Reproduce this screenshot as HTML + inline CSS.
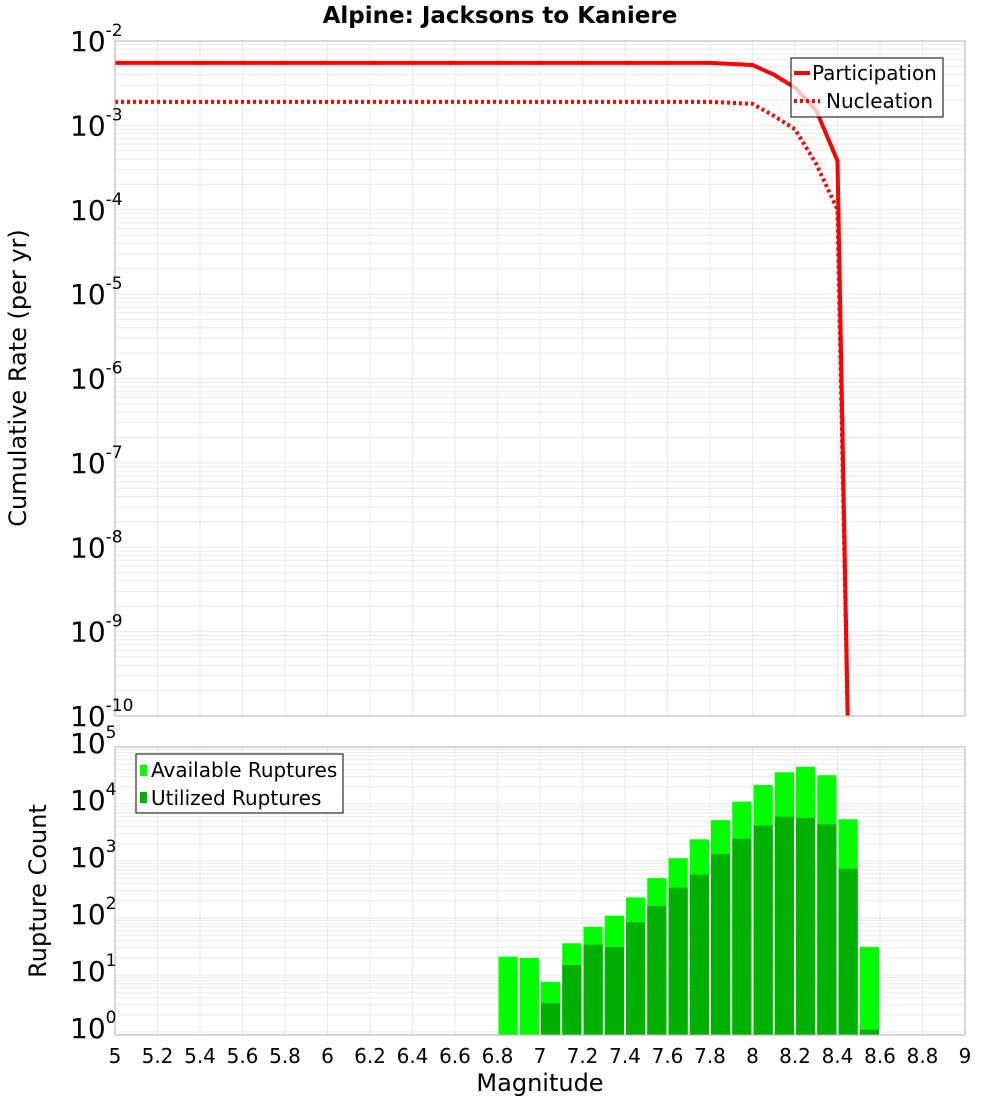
<!DOCTYPE html>
<html><head><meta charset="utf-8"><style>
body{margin:0;background:#fff;font-family:"DejaVu Sans","Liberation Sans",sans-serif;}
svg{display:block}
</style></head><body>
<svg id="c" width="1000" height="1100" xmlns="http://www.w3.org/2000/svg" font-family="DejaVu Sans, Liberation Sans, sans-serif"></svg>
<script>
const partMag=[5.0,7.8,8.0,8.1,8.2,8.3,8.4,8.45];
const partRate=[5.5e-3,5.5e-3,5.2e-3,4.0e-3,2.8e-3,1.5e-3,3.8e-4,5e-11];
const nuclMag=[5.0,7.8,8.0,8.1,8.2,8.3,8.4,8.45];
const nuclRate=[1.9e-3,1.9e-3,1.8e-3,1.3e-3,9.0e-4,3.5e-4,1.0e-4,5e-11];
const binMag=[6.85,6.95,7.05,7.15,7.25,7.35,7.45,7.55,7.65,7.75,7.85,7.95,8.05,8.15,8.25,8.35,8.45,8.55];
const availCount=[21,20,7.6,36,70,110,230,500,1120,2400,5200,11000,21500,36000,45000,32000,5400,31];
const usedCount=[0,0,3.2,15,34,31,84,162,340,575,1320,2450,4200,6000,5700,4400,730,1.1];
const xTicks=[5,5.2,5.4,5.6,5.8,6,6.2,6.4,6.6,6.8,7,7.2,7.4,7.6,7.8,8,8.2,8.4,8.6,8.8,9];
const topExp=[-2,-3,-4,-5,-6,-7,-8,-9,-10];
const botExp=[5,4,3,2,1,0];

const svg=document.getElementById('c');
const NS='http://www.w3.org/2000/svg';
function mk(tag,a,parent){const e=document.createElementNS(NS,tag);for(const k in a)e.setAttribute(k,a[k]);(parent||svg).appendChild(e);return e;}
const L=115,R=965;
const X=m=>L+(m-5)/4*(R-L);
const T0=41,T1=716;
const YT=v=>T0+(-2-Math.log10(v))*(T1-T0)/8;
const B0=747,B1=1035,dec=57;
const YB=v=>Math.min(B1,B0+(5-Math.log10(v))*dec);

const gT=mk('g',{});
for(let e=-10;e<-2;e++)for(let k=1;k<10;k++){const y=YT(k*Math.pow(10,e));mk('line',{x1:L,x2:R,y1:y,y2:y,stroke:'#ebebeb','stroke-width':1},gT);}
const gB=mk('g',{});
for(let e=-1;e<5;e++)for(let k=1;k<10;k++){const y=YB(k*Math.pow(10,e));if(y>=B1||y<B0)continue;mk('line',{x1:L,x2:R,y1:y,y2:y,stroke:'#ebebeb','stroke-width':1},gB);}
xTicks.forEach(t=>{const x=X(t);mk('line',{x1:x,x2:x,y1:T0,y2:T1,stroke:'#ebebeb'},gT);mk('line',{x1:x,x2:x,y1:B0,y2:B1,stroke:'#ebebeb'},gB);});

const bars=mk('g',{});
const bw=(X(0.1)-X(0))-2;
binMag.forEach((m,i)=>{
  const x=X(m)-bw/2;
  if(availCount[i]>0){const y=YB(availCount[i]);const r=mk('rect',{x:x,y:y,width:bw,height:B1-y,fill:'#00ff00'},bars);}
  if(usedCount[i]>0){const y=YB(usedCount[i]);const r=mk('rect',{x:x,y:y,width:bw,height:B1-y,fill:'#00b000'},bars);}
});

const clip=mk('clipPath',{id:'cp'});mk('rect',{x:L,y:T0,width:R-L,height:T1-T0},clip);
function pts(ms,vs){return ms.map((m,i)=>X(m)+','+YT(vs[i])).join(' ');}
const p1=mk('polyline',{points:pts(partMag,partRate),fill:'none',stroke:'#ff0000','stroke-width':4,'clip-path':'url(#cp)'});

const p2=mk('polyline',{points:pts(nuclMag,nuclRate),fill:'none',stroke:'#ff0000','stroke-width':4,'stroke-dasharray':'3,3','clip-path':'url(#cp)'});


const f1=mk('rect',{x:L,y:T0,width:R-L,height:T1-T0,fill:'none',stroke:'#b0b0b0'});
const f2=mk('rect',{x:L,y:B0,width:R-L,height:B1-B0,fill:'none',stroke:'#b0b0b0'});

function expLabel(y,e,name){const t=mk('text',{x:70,y:y+10,'text-anchor':'start','font-size':28,fill:'#000'});
  const a=mk('tspan',{},t);a.textContent='10';const b=mk('tspan',{dy:-15,'font-size':17},t);b.textContent=String(e);}
topExp.forEach(e=>expLabel(YT(Math.pow(10,e)),e,'y-tick-label'));
botExp.forEach(e=>expLabel(YB(Math.pow(10,e))-4,e,'y-tick-label'));

xTicks.forEach(t=>{const tx=mk('text',{x:X(t),y:1063,'text-anchor':'middle','font-size':20,fill:'#000'});tx.textContent=String(t);});

let t=mk('text',{x:500,y:23,'text-anchor':'middle','font-size':23,'font-weight':'bold'});t.textContent='Alpine: Jacksons to Kaniere';
t=mk('text',{x:540,y:1091,'text-anchor':'middle','font-size':24});t.textContent='Magnitude';
t=mk('text',{x:0,y:0,'text-anchor':'middle','font-size':24,transform:'translate(26,378) rotate(-90)'});t.textContent='Cumulative Rate (per yr)';
t=mk('text',{x:0,y:0,'text-anchor':'middle','font-size':24,transform:'translate(46,891) rotate(-90)'});t.textContent='Rupture Count';

const lg=mk('g',{});
mk('rect',{x:791,y:58,width:152,height:59,fill:'#fff','fill-opacity':0.75,stroke:'#000'},lg);
mk('line',{x1:794,x2:810,y1:73,y2:73,stroke:'#f00','stroke-width':4},lg);
mk('line',{x1:794,x2:820,y1:101,y2:101,stroke:'#f00','stroke-width':4,'stroke-dasharray':'3,3'},lg);
t=mk('text',{x:812,y:80,'font-size':20},lg);t.textContent='Participation';
t=mk('text',{x:826,y:108,'font-size':20},lg);t.textContent='Nucleation';
const lb=mk('g',{});
mk('rect',{x:136,y:754,width:207,height:59,fill:'#fff',stroke:'#000'},lb);
mk('rect',{x:140,y:765,width:7,height:11,fill:'#00ff00'},lb);
mk('rect',{x:140,y:792,width:7,height:11,fill:'#00b000'},lb);
t=mk('text',{x:151,y:777,'font-size':20},lb);t.textContent='Available Ruptures';
t=mk('text',{x:151,y:805,'font-size':20},lb);t.textContent='Utilized Ruptures';
</script>
</body></html>
